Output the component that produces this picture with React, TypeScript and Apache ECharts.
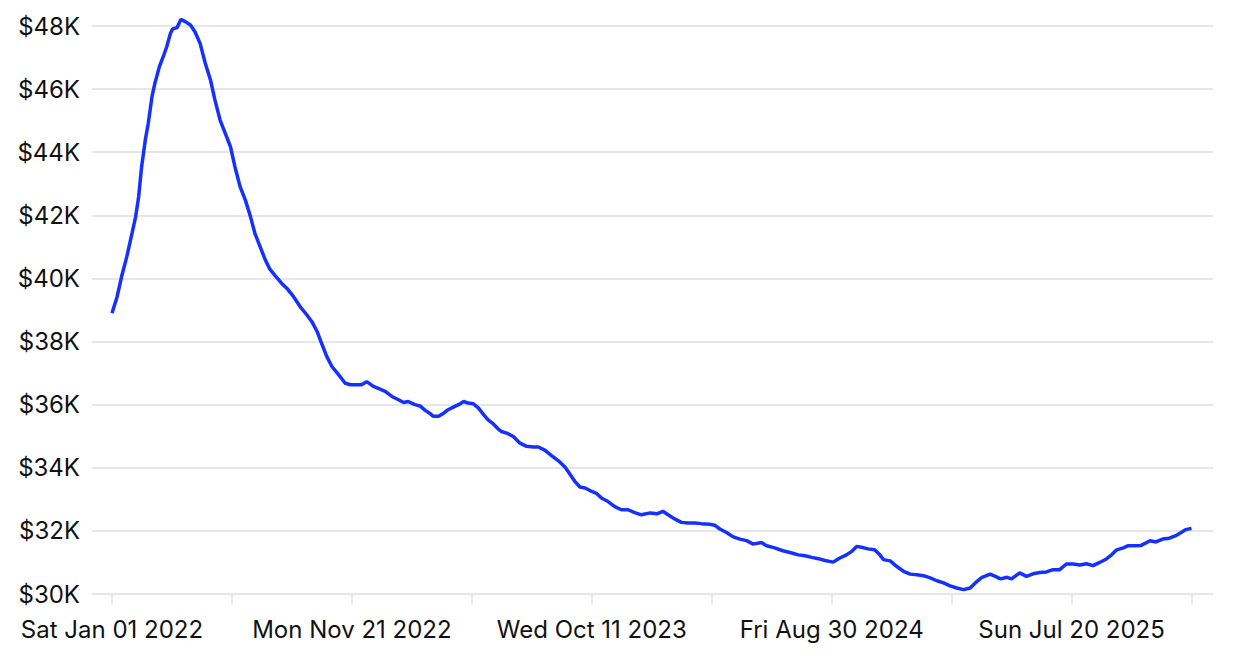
import React, { useEffect, useRef } from "react";
import * as echarts from "echarts";

// Days since Sat Jan 01 2022
const days = [
  0, 7, 13, 20, 27, 32, 36, 40, 45, 49, 54, 58, 64, 70, 74, 79, 82, 88, 93, 99,
  106, 112, 119, 126, 133, 139, 146, 153, 160, 166, 173, 180, 187, 193, 200, 207, 213, 220, 229, 236,
  245, 254, 263, 270, 277, 283, 290, 297, 306, 315, 322, 331, 337, 344, 353, 362, 369, 378, 385, 394,
  400, 409, 416, 423, 430, 434, 441, 448, 454, 461, 468, 475, 481, 488, 495, 502, 508, 515, 523, 526,
  533, 542, 551, 560, 569, 576, 585, 594, 603, 612, 619, 625, 632, 639, 648, 655, 661, 670, 679, 688,
  697, 706, 715, 727, 736, 744, 751, 760, 769, 778, 787, 796, 807, 814, 821, 830, 839, 848, 857, 866,
  877, 884, 895, 906, 918, 927, 936, 945, 954, 963, 974, 983, 992, 999, 1006, 1012, 1021, 1030, 1037, 1042,
  1051, 1060, 1069, 1078, 1087, 1096, 1105, 1114, 1123, 1132, 1141, 1150, 1159, 1166, 1175, 1186, 1193, 1200, 1209, 1215,
  1226, 1235, 1244, 1253, 1262, 1271, 1280, 1289, 1298, 1307, 1316, 1325, 1334, 1343, 1350, 1357, 1366, 1372, 1381, 1390,
  1402, 1410, 1419, 1428, 1437, 1444, 1450, 1458,
];

// Average price in thousands of dollars
const prices = [
  38.9, 39.43, 40.06, 40.69, 41.43, 41.96, 42.59, 43.54, 44.39, 44.92, 45.76, 46.19, 46.71, 47.08, 47.35, 47.77, 47.91, 47.95, 48.21, 48.14,
  48.03, 47.82, 47.45, 46.82, 46.29, 45.66, 45.02, 44.6, 44.18, 43.54, 42.91, 42.49, 41.96, 41.43, 41.01, 40.59, 40.3, 40.1, 39.85, 39.69,
  39.43, 39.11, 38.85, 38.63, 38.32, 37.95, 37.53, 37.21, 36.95, 36.68, 36.63, 36.63, 36.63, 36.73, 36.58, 36.49, 36.42, 36.26, 36.18, 36.07,
  36.1, 36.0, 35.96, 35.82, 35.71, 35.63, 35.63, 35.73, 35.84, 35.92, 36.0, 36.1, 36.05, 36.03, 35.89, 35.68, 35.52, 35.39, 35.2, 35.15,
  35.1, 34.99, 34.78, 34.68, 34.66, 34.66, 34.55, 34.38, 34.22, 34.02, 33.78, 33.57, 33.39, 33.36, 33.25, 33.18, 33.04, 32.93, 32.77, 32.67,
  32.67, 32.58, 32.51, 32.57, 32.54, 32.62, 32.51, 32.38, 32.27, 32.25, 32.25, 32.23, 32.21, 32.18, 32.06, 31.95, 31.81, 31.74, 31.69, 31.58,
  31.63, 31.53, 31.46, 31.37, 31.3, 31.24, 31.21, 31.16, 31.12, 31.06, 31.01, 31.14, 31.24, 31.35, 31.51, 31.48, 31.43, 31.4, 31.24, 31.09,
  31.05, 30.87, 30.72, 30.63, 30.61, 30.58, 30.51, 30.42, 30.35, 30.26, 30.19, 30.14, 30.19, 30.35, 30.53, 30.63, 30.56, 30.48, 30.53, 30.48,
  30.67, 30.56, 30.64, 30.68, 30.7, 30.77, 30.77, 30.95, 30.95, 30.92, 30.96, 30.9, 31.0, 31.11, 31.24, 31.4, 31.46, 31.53, 31.53, 31.54,
  31.69, 31.65, 31.74, 31.77, 31.85, 31.95, 32.04, 32.08,
];

const tickDays = [0, 162, 324, 486, 648, 810, 972, 1134, 1296, 1458];
const labelDays = [0, 324, 648, 972, 1296];
const yTicks = [30, 32, 34, 36, 38, 40, 42, 44, 46, 48];

const FONT = "Inter, 'Liberation Sans', sans-serif";

export default function App() {
  const ref = useRef<HTMLDivElement>(null);
  useEffect(() => {
    if (!ref.current) return;
    const chart = echarts.init(ref.current, undefined, { renderer: "svg" });
    const data = days.map((d, i) => [d, prices[i] * 1000]);
    chart.setOption({
      animation: false,
      grid: { left: 84, right: 27, top: 18, bottom: 66, containLabel: false },
      xAxis: {
        type: "value",
        min: -27,
        max: 1487,
        axisLine: { show: false },
        splitLine: { show: false },
        axisTick: {
          show: true,
          length: 10,
          customValues: tickDays,
          lineStyle: { color: "#e6e6e6", width: 2 },
        },
        axisLabel: {
          customValues: labelDays,
          margin: 23,
          fontFamily: FONT,
          fontSize: 24,
          color: "#111",
          formatter: (v: number) => new Date(2022, 0, 1 + v).toDateString(),
        },
      },
      yAxis: {
        type: "value",
        min: yTicks[0] * 1000,
        max: yTicks[yTicks.length - 1] * 1000,
        interval: 2000,
        axisLine: { show: false },
        axisTick: { show: false },
        splitLine: { lineStyle: { color: "#e6e6e6", width: 2 } },
        axisLabel: {
          margin: 12,
          fontFamily: FONT,
          fontSize: 24,
          color: "#111",
          formatter: (v: number) => `$${v / 1000}K`,
        },
      },
      series: [
        {
          type: "line",
          data,
          showSymbol: false,
          clip: false,
          lineStyle: { color: "#1531ff", width: 3.5 },
        },
      ],
    });
    return () => chart.dispose();
  }, []);
  return <div ref={ref} style={{ width: 1232, height: 652 }} />;
}
